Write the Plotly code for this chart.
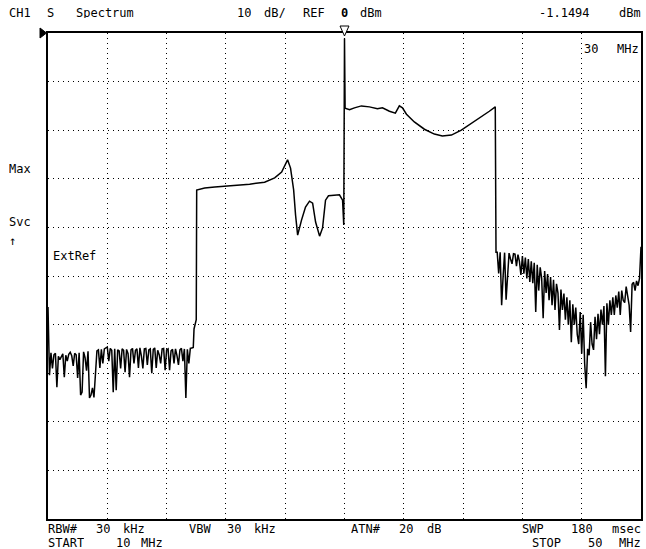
import numpy as np
import plotly.graph_objects as go

# ---------------- data (MHz, dBm) ----------------
start_mhz, stop_mhz = 10.0, 50.0
ref_dbm, db_per_div = 0.0, 10.0
marker_mhz, marker_dbm = 30.0, -1.1494

# noise floor below the band (sweep points 10.0 .. 19.8 MHz)
low_noise_level = [
    -56.4, -70.4, -65.8, -69.0, -66.2, -65.9, -72.9, -66.5, -67.2, -66.4,
    -66.0, -70.8, -66.3, -67.5, -66.1, -65.7, -66.4, -68.5, -65.9, -66.2,
    -71.0, -65.8, -74.5, -73.9, -65.6, -66.8, -69.5, -65.5, -75.1, -74.5,
    -73.0, -75.0, -70.2, -65.4, -65.2, -68.9, -65.1, -68.0, -65.0, -64.8,
    -64.6, -67.5, -64.9, -65.3, -73.9, -65.0, -73.5, -65.2, -65.4, -69.0,
    -65.0, -65.3, -69.8, -65.1, -66.0, -70.8, -65.2, -64.9, -68.0, -65.3,
    -65.0, -68.9, -64.8, -66.5, -69.0, -65.0, -64.9, -68.3, -65.2, -65.0,
    -70.0, -65.1, -64.8, -68.9, -65.3, -66.2, -68.0, -65.0, -64.9, -69.4,
    -65.2, -65.0, -69.4, -65.4, -65.1, -68.0, -65.0, -66.4, -68.3, -65.2,
    -64.9, -67.5, -65.0, -75.1, -65.1, -68.0, -64.9, -64.8, -64.7,
]
low_noise_span = (10.0, 19.8)

# in-band part of the trace
band_freq = [
    19.85, 20.0, 20.03, 20.57, 21.25, 22.26, 23.60, 24.61, 25.29, 25.76,
    26.16, 26.36, 26.57, 26.70, 26.84, 27.10, 27.37, 27.64, 27.85, 28.05,
    28.32, 28.52, 28.72, 28.92, 29.66, 29.87, 29.95, 30.0, 30.04, 30.34,
    30.67, 31.14, 31.68, 32.22, 32.56, 33.03, 33.43, 33.70, 33.91, 34.18,
    34.71, 35.39, 36.06, 36.60, 37.21, 37.88, 38.42, 38.96, 39.36, 39.77,
    40.17, 40.22,
]
band_level = [
    -60.9, -59.0, -32.3, -31.9, -31.7, -31.5, -31.1, -30.7, -29.8, -28.6,
    -26.1, -27.8, -32.3, -37.5, -41.6, -38.5, -35.8, -34.6, -35.0, -38.9,
    -41.8, -40.1, -34.4, -33.5, -33.3, -34.4, -39.5, -1.15, -15.5, -15.8,
    -15.4, -15.0, -15.2, -15.6, -15.4, -16.1, -16.5, -15.0, -15.4, -16.7,
    -18.3, -19.8, -20.8, -21.2, -21.0, -20.0, -18.9, -17.9, -16.9, -16.1,
    -15.2, -45.1,
]

# spurious skirt above the band (sweep points 40.3 .. 49.9 MHz)
high_noise_level = [
    -45.1, -49.5, -45.1, -56.0, -50.0, -45.2, -54.9, -49.0, -45.3, -46.5,
    -47.5, -45.4, -45.5, -48.0, -45.6, -47.0, -49.8, -45.9, -49.5, -46.2,
    -50.5, -46.5, -51.2, -47.0, -51.5, -47.3, -57.4, -47.7, -53.0, -48.2,
    -50.5, -58.7, -49.0, -53.5, -49.6, -55.0, -50.2, -56.0, -50.8, -57.0,
    -51.6, -53.5, -61.1, -52.8, -57.0, -53.6, -59.0, -54.4, -60.0, -55.0,
    -63.6, -55.8, -60.0, -56.5, -62.0, -64.0, -57.4, -66.0, -58.0, -68.0,
    -73.1, -65.0, -66.3, -59.5, -64.0, -65.2, -58.4, -63.0, -57.8, -62.0,
    -56.9, -60.0, -56.2, -70.6, -55.6, -60.0, -55.0, -58.0, -54.4, -58.0,
    -54.0, -56.5, -53.2, -58.0, -53.0, -55.0, -55.5, -52.2, -54.0, -56.0,
    -61.5, -51.7, -51.3, -53.0, -51.0, -52.0, -50.5,
]
high_noise_span = (40.3, 49.9)
end_freq = [50.0]
end_level = [-44.0]

# ---------------- build trace ----------------
low_f = np.linspace(low_noise_span[0], low_noise_span[1], len(low_noise_level))
high_f = np.linspace(high_noise_span[0], high_noise_span[1], len(high_noise_level))
freq = np.concatenate([low_f, band_freq, high_f, end_freq])
level = np.concatenate([low_noise_level, band_level, high_noise_level, end_level])

fig = go.Figure()
fig.add_trace(go.Scatter(x=freq, y=level, mode="lines",
                         line=dict(color="black", width=1.5),
                         hoverinfo="skip", showlegend=False))

# page geometry (body margin is removed by the post script below)
PAGE_W, PAGE_H = 646, 549
BOX_L, BOX_R, BOX_T, BOX_B = 48, 643, 33, 519
W, H = PAGE_W, PAGE_H
L, T = BOX_L, BOX_T
R, B = PAGE_W - BOX_R, PAGE_H - BOX_B
PW, PH = BOX_R - BOX_L, BOX_B - BOX_T


def px(x):
    return (x - BOX_L) / PW


def py(y):
    return (BOX_B - y) / PH


FONT = "DejaVu Sans Mono"


def word(text, x, y, anchor="left", size=12, bold=False):
    return dict(text=text, x=px(x), y=py(y), xref="paper", yref="paper",
                xanchor=anchor, yanchor="middle", showarrow=False,
                height=11, borderpad=0,
                font=dict(family=FONT, size=size, color="black",
                          weight="bold" if bold else "normal"))


annotations = [
    word("CH1", 8, 12), word("S", 46, 12), word("Spectrum", 75, 12),
    word("10", 237, 12), word("dB/", 264, 12), word("REF", 303, 12),
    word("0", 341, 12, bold=True), word("dBm", 360, 12),
    word("-1.1494", 540, 12), word("dBm", 644, 12, "right"),
    word("30", 585, 49), word("MHz", 642, 49, "right"),
    word("Max", 8, 168), word("Svc", 8, 221), word("\u2191", 8, 240),
    word("ExtRef", 52, 256),
    word("RBW#", 47, 528), word("30", 95, 528), word("kHz", 122, 528),
    word("VBW", 188, 528), word("30", 227, 528), word("kHz", 254, 528),
    word("ATN#", 351, 528), word("20", 399, 528), word("dB", 427, 528),
    word("SWP", 523, 528), word("180", 572, 528), word("msec", 644, 528, "right"),
    word("START", 47, 542), word("10", 115, 542), word("MHz", 140, 542),
    word("STOP", 533, 542), word("50", 589, 542), word("MHz", 644, 542, "right"),
]

half_w = 4.5 * (stop_mhz - start_mhz) / PW
shapes = [
    # reference-level pointer on the left
    dict(type="path", xref="paper", yref="paper",
         path=f"M {px(40)},{py(28)} L {px(46.5)},{py(33)} L {px(40)},{py(38)} Z",
         fillcolor="black", line=dict(color="black", width=1)),
    # marker triangle above the peak
    dict(type="path", xref="x", yref="paper",
         path=f"M {marker_mhz - half_w},{py(26)} L {marker_mhz + half_w},{py(26)} L {marker_mhz},{py(36)} Z",
         fillcolor="white", line=dict(color="black", width=1)),
]

fig.update_layout(
    width=W, height=H,
    margin=dict(l=L, r=R, t=T, b=B, pad=0),
    paper_bgcolor="white", plot_bgcolor="white",
    annotations=annotations, shapes=shapes,
    xaxis=dict(range=[start_mhz, stop_mhz], tickvals=list(range(14, 50, 4)),
               showticklabels=False, ticks="", showgrid=True, gridcolor="black",
               gridwidth=1, griddash="1px,4px", zeroline=False,
               showline=True, linecolor="black", linewidth=1.5, mirror=True,
               fixedrange=True),
    yaxis=dict(range=[ref_dbm - 10 * db_per_div, ref_dbm],
               tickvals=list(range(-90, 0, 10)),
               showticklabels=False, ticks="", showgrid=True, gridcolor="black",
               gridwidth=1, griddash="1px,4px", zeroline=False,
               showline=True, linecolor="black", linewidth=1.5, mirror=True,
               fixedrange=True),
    hovermode=False,
)

fig.write_html(
    "out.html",
    config={"displayModeBar": False},
    post_script="document.body.style.margin='0';document.body.style.overflow='hidden';",
)
